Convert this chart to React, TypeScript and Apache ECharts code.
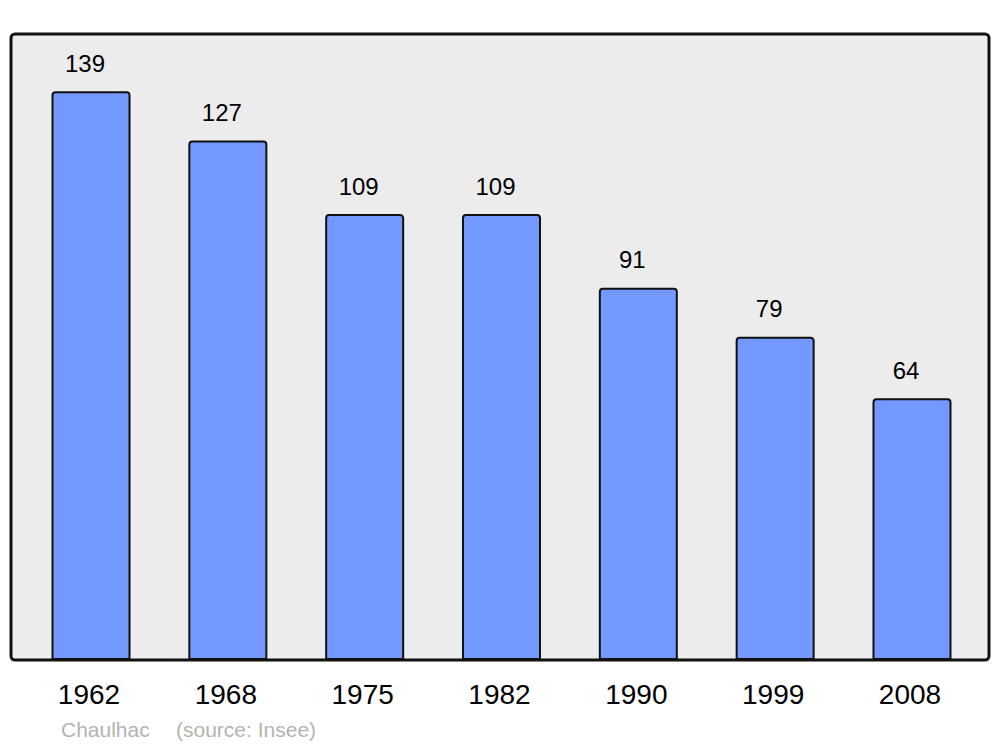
import React, { useEffect, useRef } from "react";
import * as echarts from "echarts";

const years = ["1962", "1968", "1975", "1982", "1990", "1999", "2008"];
const population = [139, 127, 109, 109, 91, 79, 64];
const footerName = "Chaulhac";
const footerSource = "(source: Insee)";

export default function App() {
  const ref = useRef<HTMLDivElement>(null);
  useEffect(() => {
    if (!ref.current) return;
    const chart = echarts.init(ref.current, null, { renderer: "svg" });
    chart.setOption({
      animation: false,
      textStyle: { fontFamily: "Liberation Sans, Arial, sans-serif" },
      grid: { left: 22.6, right: 19.6, top: 34, bottom: 87, containLabel: false },
      graphic: [
        {
          type: "rect",
          z: -10,
          shape: { x: 11, y: 34, width: 978, height: 626, r: 4 },
          style: { fill: "#ececec", stroke: "#111", lineWidth: 3 },
        },
        {
          type: "text",
          left: 61,
          top: 719,
          style: {
            text: footerName,
            fill: "#b3b3b3",
            font: "21px 'Liberation Sans', Arial, sans-serif",
          },
        },
        {
          type: "text",
          left: 176,
          top: 719,
          style: {
            text: footerSource,
            fill: "#b3b3b3",
            font: "21px 'Liberation Sans', Arial, sans-serif",
          },
        },
      ],
      xAxis: {
        type: "category",
        data: years,
        axisLine: { show: false },
        axisTick: { show: false },
        axisLabel: {
          color: "#000",
          fontSize: 28,
          margin: 20,
          padding: [0, 4, 0, 0],
        },
      },
      yAxis: {
        type: "value",
        min: 0,
        max: 153,
        show: false,
        splitLine: { show: false },
      },
      series: [
        {
          type: "bar",
          data: population,
          barWidth: 79,
          itemStyle: {
            color: "#7399ff",
            borderColor: "#111",
            borderWidth: 2,
            borderRadius: [3, 3, 0, 0],
          },
          label: {
            show: true,
            position: "top",
            distance: 16,
            offset: [-6, 0],
            color: "#000",
            fontSize: 24,
          },
        },
      ],
    });
    return () => chart.dispose();
  }, []);
  return <div ref={ref} style={{ width: 1000, height: 747, position: "absolute", left: 0, top: 0 }} />;
}
